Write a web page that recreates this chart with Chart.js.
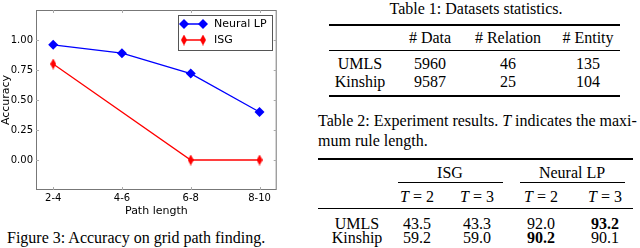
<!DOCTYPE html>
<html>
<head>
<meta charset="utf-8">
<script src="https://cdn.jsdelivr.net/npm/chart.js@4/dist/chart.umd.min.js"></script>
<style>
  body { margin: 0; background: #fff; width: 640px; height: 248px; overflow: hidden; position: relative; font-family: "Liberation Serif", serif; color: #000; }
  #chartBox { position: absolute; left: 0; top: 0; width: 282px; height: 218px; }
  .t { position: absolute; font-size: 16px; line-height: 1; white-space: nowrap; transform: translate(-50%, -50%); }
  .l { position: absolute; font-size: 16px; line-height: 1; white-space: nowrap; transform: translateY(-50%); }
  .rule { position: absolute; background: #000; }
</style>
</head>
<body>
<div id="chartBox"><canvas id="accChart"></canvas></div>
<div class="l" style="left:7px; top:238px;">Figure 3: Accuracy on grid path finding.</div>
<div id="tables"></div>
<script>
// Figure 3 data
var pathLengths = ['2-4', '4-6', '6-8', '8-10'];
var neuralLP = [0.96, 0.89, 0.72, 0.40];
var isg = [0.80, null, 0.00, 0.00];
var yTicks = [0.00, 0.25, 0.50, 0.75, 1.00];

// Table 1 data
var t1Header = ['# Data', '# Relation', '# Entity'];
var t1Rows = ['UMLS', 'Kinship'];
var t1Values = [[5960, 46, 135], [9587, 25, 104]];

// Table 2 data
var t2Groups = ['ISG', 'Neural LP'];
var t2Sub = ['<i>T</i> = 2', '<i>T</i> = 3', '<i>T</i> = 2', '<i>T</i> = 3'];
var t2Rows = ['UMLS', 'Kinship'];
var t2Values = [['43.5', '43.3', '92.0', '93.2'], ['59.2', '59.0', '90.2', '90.1']];
var t2Bold = [[false, false, false, true], [false, false, true, false]];

// thin diamond marker for ISG
function thinDiamond(color, w, h) {
    var c = document.createElement('canvas');
    c.width = w; c.height = h;
    var g = c.getContext('2d');
    g.fillStyle = color;
    g.beginPath();
    g.moveTo(w / 2, 0); g.lineTo(w, h / 2); g.lineTo(w / 2, h); g.lineTo(0, h / 2);
    g.closePath(); g.fill();
    return c;
}
var isgMarker = thinDiamond('#ff0000', 6, 11);

function toPoints(arr) {
    return arr.map(function (v, i) { return { x: i, y: v }; });
}

// frame, inward ticks and matplotlib-like legend
var framePlugin = {
    id: 'frame',
    afterDraw: function (chart) {
        var ctx = chart.ctx, a = chart.chartArea;
        var xs = chart.scales.x, ys = chart.scales.y;
        ctx.save();
        ctx.strokeStyle = '#777';
        ctx.lineWidth = 1;
        ctx.strokeRect(a.left + 0.5, a.top + 0.5, a.right - a.left - 1, a.bottom - a.top - 1);
        ctx.strokeStyle = '#aaa';
        ctx.beginPath();
        pathLengths.forEach(function (p, i) {
            var px = Math.round(xs.getPixelForValue(i)) + 0.5;
            ctx.moveTo(px, a.bottom); ctx.lineTo(px, a.bottom - 3);
            ctx.moveTo(px, a.top); ctx.lineTo(px, a.top + 3);
        });
        yTicks.forEach(function (v) {
            var py = Math.round(ys.getPixelForValue(v)) + 0.5;
            ctx.moveTo(a.left, py); ctx.lineTo(a.left + 3, py);
            ctx.moveTo(a.right, py); ctx.lineTo(a.right - 3, py);
        });
        ctx.stroke();

        // legend
        var lx = 178, ly = 15, lw = 94, lh = 35;
        ctx.fillStyle = '#fff';
        ctx.fillRect(lx, ly, lw, lh);
        ctx.strokeStyle = '#555';
        ctx.strokeRect(lx + 0.5, ly + 0.5, lw, lh);
        var rows = [
            { label: 'Neural LP', color: '#0000ff', y: ly + 9 },
            { label: 'ISG', color: '#ff0000', y: ly + 25 }
        ];
        rows.forEach(function (r, k) {
            ctx.strokeStyle = r.color;
            ctx.lineWidth = 1.5;
            ctx.beginPath();
            ctx.moveTo(lx + 6, r.y); ctx.lineTo(lx + 25, r.y);
            ctx.stroke();
            [lx + 6, lx + 25].forEach(function (mx) {
                if (k === 0) {
                    ctx.fillStyle = r.color;
                    ctx.beginPath();
                    ctx.moveTo(mx, r.y - 5); ctx.lineTo(mx + 5, r.y); ctx.lineTo(mx, r.y + 5); ctx.lineTo(mx - 5, r.y);
                    ctx.closePath(); ctx.fill();
                } else {
                    ctx.drawImage(isgMarker, mx - 3, r.y - 5.5);
                }
            });
            ctx.fillStyle = '#000';
            ctx.font = '11px "DejaVu Sans"';
            ctx.textBaseline = 'middle';
            ctx.fillText(r.label, lx + 36, r.y + 0.5);
        });
        ctx.restore();
    }
};

var ctx = document.getElementById('accChart').getContext('2d');
var accChart = new Chart(ctx, {
    type: 'line',
    data: {
        datasets: [{
            label: 'Neural LP',
            data: toPoints(neuralLP),
            borderColor: '#0000ff',
            backgroundColor: '#0000ff',
            borderWidth: 1.3,
            pointStyle: 'rectRot',
            pointRadius: 5,
            pointBorderWidth: 0
        }, {
            label: 'ISG',
            data: toPoints(isg),
            borderColor: '#ff0000',
            backgroundColor: '#ff0000',
            borderWidth: 1.3,
            pointStyle: isgMarker,
            spanGaps: true
        }]
    },
    options: {
        responsive: true,
        maintainAspectRatio: false,
        animation: false,
        events: [],
        layout: { padding: { top: 10, right: 5, left: 0, bottom: 0 } },
        plugins: { legend: { display: false }, tooltip: { enabled: false } },
        scales: {
            x: {
                type: 'linear',
                min: -0.25,
                max: 3.25,
                afterBuildTicks: function (s) { s.ticks = pathLengths.map(function (p, i) { return { value: i }; }); },
                afterFit: function (s) { s.height = 28; },
                ticks: {
                    color: '#000',
                    padding: 2,
                    font: { family: 'DejaVu Sans', size: 10 },
                    callback: function (v) { return pathLengths[v]; }
                },
                grid: { display: false, drawTicks: false },
                border: { display: false },
                title: { display: true, text: 'Path length', color: '#000', padding: { top: 0, bottom: 0 }, font: { family: 'DejaVu Sans', size: 11 } }
            },
            y: {
                min: -0.25,
                max: 1.25,
                afterBuildTicks: function (s) { s.ticks = yTicks.map(function (v) { return { value: v }; }); },
                afterFit: function (s) { s.width = 36; },
                ticks: {
                    color: '#000',
                    padding: 3,
                    font: { family: 'DejaVu Sans', size: 10 },
                    callback: function (v) { return v.toFixed(2); }
                },
                grid: { display: false, drawTicks: false },
                border: { display: false },
                title: { display: true, text: 'Accuracy', color: '#000', padding: { top: 0, bottom: 0 }, font: { family: 'DejaVu Sans', size: 11 } }
            }
        }
    },
    plugins: [framePlugin]
});

// tables
var tables = document.getElementById('tables');
function txt(html, x, y, cls, extra) {
    var d = document.createElement('div');
    d.className = cls || 't';
    d.style.left = x + 'px';
    d.style.top = y + 'px';
    if (extra) d.style.cssText += extra;
    d.innerHTML = html;
    tables.appendChild(d);
}
function rule(x1, x2, y, h) {
    var d = document.createElement('div');
    d.className = 'rule';
    d.style.left = x1 + 'px';
    d.style.width = (x2 - x1) + 'px';
    d.style.top = y + 'px';
    d.style.height = h + 'px';
    tables.appendChild(d);
}

// Table 1
var t1Cols = [430, 508, 588];
txt('Table 1: Datasets statistics.', 476, 9);
rule(329, 620, 24, 1.5);
t1Header.forEach(function (h, i) { txt(h, t1Cols[i], 38); });
rule(329, 620, 50, 1);
t1Rows.forEach(function (r, j) {
    txt(r, 360, 64 + j * 18);
    t1Values[j].forEach(function (v, i) { txt(String(v), t1Cols[i], 64 + j * 18); });
});
rule(329, 620, 95, 1.5);

// Table 2
var t2Cols = [417, 477, 541, 605];
txt('Table 2: Experiment results. <i>T</i> indicates the maxi-', 318, 121, 'l', 'width:318px;text-align:justify;text-align-last:justify;');
txt('mum rule length.', 318, 141, 'l');
rule(318, 633, 158, 1.5);
txt(t2Groups[0], 450, 173);
txt(t2Groups[1], 572, 173);
rule(398, 503, 182, 1);
rule(520, 625, 182, 1);
t2Sub.forEach(function (s, i) { txt(s, t2Cols[i], 197); });
rule(318, 633, 208, 1);
t2Rows.forEach(function (r, j) {
    txt(r, 357, 224 + j * 14);
    t2Values[j].forEach(function (v, i) {
        txt(t2Bold[j][i] ? '<b>' + v + '</b>' : v, t2Cols[i], 224 + j * 14);
    });
});
</script>
</body>
</html>
